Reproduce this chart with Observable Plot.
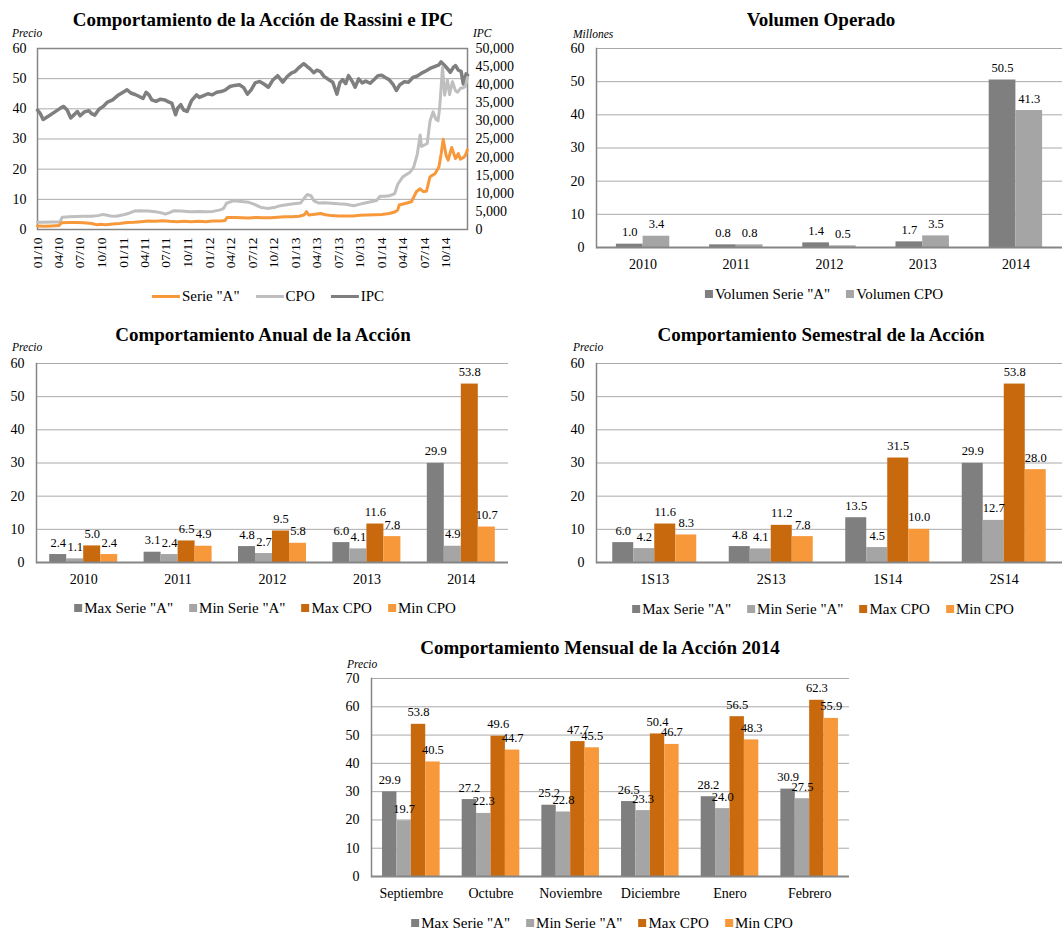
<!DOCTYPE html>
<html>
<head>
<meta charset="utf-8">
<script src="https://cdn.jsdelivr.net/npm/d3@7"></script>
<script src="https://cdn.jsdelivr.net/npm/@observablehq/plot@0.6"></script>
<style>
  html, body { margin: 0; padding: 0; background: #fff; }
  body { width: 1062px; height: 930px; position: relative; overflow: hidden;
         font-family: "Liberation Serif", "Times New Roman", serif; color: #000; }
  .abs { position: absolute; white-space: nowrap; }
  .title { font-weight: bold; font-size: 19px; line-height: 22px; transform: translateX(-50%); }
  .unit { font-style: italic; font-size: 11.5px; line-height: 14px; }
  .legend { display: flex; align-items: center; font-size: 15px; line-height: 16px; transform: translateX(-50%); }
  .legend .item { display: flex; align-items: center; margin: 0 8px; }
  .legend .sq { width: 8px; height: 8px; margin-right: 2px; }
  .legend .ln { width: 28px; height: 3px; margin-right: 2px; }
  svg { overflow: visible; }
</style>
</head>
<body>
<script>
// ---------------- DATA ----------------
// Chart 1: price series
const serieADates = ["2010-01-01","2010-02-01","2010-03-01","2010-04-01","2010-04-13","2010-05-16","2010-06-16","2010-07-16","2010-08-19","2010-09-07","2010-10-01","2010-10-19","2010-11-16","2010-12-16","2011-01-16","2011-02-16","2011-03-16","2011-04-16","2011-05-16","2011-06-16","2011-07-16","2011-08-16","2011-09-16","2011-10-16","2011-11-16","2011-12-16","2012-01-16","2012-02-16","2012-03-07","2012-03-16","2012-04-16","2012-05-16","2012-06-16","2012-07-16","2012-08-16","2012-09-16","2012-10-16","2012-11-16","2012-12-16","2013-01-16","2013-02-07","2013-02-16","2013-02-25","2013-03-16","2013-04-16","2013-05-07","2013-06-01","2013-07-01","2013-08-01","2013-09-01","2013-10-01","2013-11-01","2013-12-01","2014-01-01","2014-02-01","2014-02-25","2014-03-10","2014-03-16","2014-04-10","2014-05-07","2014-05-28","2014-06-13","2014-06-25","2014-07-10","2014-07-25","2014-08-16","2014-09-01","2014-09-10","2014-09-19","2014-10-01","2014-10-10","2014-10-25","2014-11-10","2014-11-22","2014-12-01","2014-12-16","2014-12-22","2014-12-31"];
const serieAValues = [1.2,1.1,1.2,1.3,2.2,2.3,2.3,2.2,2.0,1.6,1.7,1.6,1.8,2.0,2.3,2.4,2.6,2.8,2.7,2.9,2.7,2.6,2.7,2.6,2.7,2.6,2.8,2.8,3.0,4.0,4.0,3.9,3.8,4.0,3.9,3.9,4.1,4.2,4.2,4.4,4.9,5.9,4.8,5.0,5.3,4.9,4.6,4.5,4.5,4.5,4.7,4.8,4.9,5.0,5.3,5.8,6.5,8.1,8.6,9.2,12.5,13.5,12.6,12.7,17.5,18.6,20.8,25.0,29.9,24.6,23.0,27.2,23.5,25.2,23.3,24.0,24.6,26.5];

const cpoDates = ["2010-01-01","2010-02-01","2010-03-01","2010-04-07","2010-04-16","2010-05-16","2010-06-16","2010-07-16","2010-08-16","2010-09-16","2010-10-04","2010-10-19","2010-11-07","2010-12-01","2011-01-01","2011-01-25","2011-02-16","2011-03-13","2011-04-16","2011-05-16","2011-06-07","2011-06-28","2011-07-16","2011-08-01","2011-09-01","2011-10-10","2011-11-16","2011-12-19","2012-01-16","2012-02-16","2012-03-01","2012-03-13","2012-04-10","2012-05-16","2012-06-16","2012-07-10","2012-08-04","2012-09-01","2012-09-16","2012-10-07","2012-10-28","2012-12-01","2013-01-01","2013-01-22","2013-02-07","2013-02-19","2013-03-07","2013-03-19","2013-04-07","2013-05-01","2013-06-01","2013-07-01","2013-08-01","2013-09-04","2013-10-01","2013-10-22","2013-11-16","2013-12-10","2013-12-25","2014-01-16","2014-02-07","2014-02-25","2014-03-10","2014-04-01","2014-05-01","2014-05-16","2014-06-01","2014-06-13","2014-06-19","2014-07-01","2014-07-13","2014-07-25","2014-08-07","2014-08-19","2014-08-28","2014-09-04","2014-09-10","2014-09-16","2014-09-25","2014-10-07","2014-10-16","2014-10-28","2014-11-10","2014-11-19","2014-12-01","2014-12-13","2014-12-22","2014-12-31"];
const cpoValues = [2.4,2.4,2.5,2.5,4.1,4.2,4.3,4.4,4.4,4.6,5.0,4.8,4.5,4.4,4.9,5.4,6.1,6.2,6.1,5.9,5.6,5.1,5.6,6.2,6.1,5.9,6.0,5.9,6.0,6.5,7.0,8.7,9.5,9.3,9.0,8.3,7.4,7.0,7.1,7.4,7.9,8.3,8.6,8.8,10.5,11.6,11.2,9.5,8.8,8.9,8.7,8.5,8.4,7.9,8.4,8.8,9.2,9.6,11.0,11.0,11.3,11.9,15.0,17.5,19.0,20.5,25.0,31.3,27.5,28.0,28.5,36.0,39.0,36.5,36.0,40.5,47.0,53.8,44.5,49.6,44.7,49.0,46.0,45.5,46.8,47.0,47.5,50.4];

const ipcDates = ["2010-01-01","2010-01-13","2010-01-25","2010-02-16","2010-03-16","2010-04-10","2010-04-22","2010-05-07","2010-05-22","2010-06-07","2010-06-19","2010-07-01","2010-07-19","2010-08-07","2010-08-19","2010-09-01","2010-09-19","2010-10-07","2010-10-25","2010-11-16","2010-12-07","2011-01-01","2011-01-16","2011-02-01","2011-02-19","2011-03-07","2011-03-25","2011-04-07","2011-04-19","2011-05-01","2011-05-19","2011-06-07","2011-06-25","2011-07-13","2011-07-25","2011-08-10","2011-08-19","2011-09-01","2011-09-13","2011-09-28","2011-10-16","2011-11-07","2011-11-19","2011-12-07","2011-12-25","2012-01-13","2012-02-01","2012-02-19","2012-03-07","2012-03-28","2012-04-16","2012-05-07","2012-05-25","2012-06-10","2012-06-25","2012-07-13","2012-08-01","2012-08-19","2012-09-07","2012-09-25","2012-10-16","2012-11-07","2012-11-25","2012-12-13","2012-12-28","2013-01-16","2013-02-04","2013-02-19","2013-03-04","2013-03-19","2013-04-01","2013-04-16","2013-05-01","2013-05-19","2013-06-07","2013-06-25","2013-07-07","2013-07-19","2013-08-01","2013-08-13","2013-08-28","2013-09-10","2013-09-25","2013-10-10","2013-10-25","2013-11-13","2013-12-01","2013-12-16","2014-01-01","2014-01-16","2014-02-01","2014-02-19","2014-03-04","2014-03-19","2014-04-07","2014-04-25","2014-05-13","2014-06-01","2014-06-19","2014-07-07","2014-07-25","2014-08-13","2014-09-01","2014-09-10","2014-09-25","2014-10-10","2014-10-19","2014-11-01","2014-11-10","2014-11-22","2014-12-04","2014-12-13","2014-12-19","2014-12-25","2014-12-31"];
const ipcValues = [33000,32000,30400,31300,32500,33600,34000,33000,30800,31800,32600,31400,32500,32800,32000,31600,33200,34000,35200,35800,37000,38000,38600,37700,37300,36800,36200,37900,37200,35800,35400,36000,35800,35200,34900,31700,33500,34500,33000,32600,35500,37200,36500,37000,37500,37200,37900,38100,38500,39500,39800,40000,39200,37400,38500,40500,40900,40200,39300,41200,42500,40700,42200,43200,43600,44800,45800,45000,44300,43300,44000,43600,42300,41500,40700,37400,40500,41400,40300,42500,41000,39300,41600,40500,41000,40400,41500,42500,42600,42000,41400,40000,38400,40000,40800,40700,42000,42400,43200,43800,44500,45000,45500,46300,45300,44200,43400,44800,45300,44000,43700,40200,41500,43000,42600];

const priceTicks = [0, 10, 20, 30, 40, 50, 60];
const ipcTicks = [0, 5000, 10000, 15000, 20000, 25000, 30000, 35000, 40000, 45000, 50000];

// Chart 2: Volumen Operado (millones)
const volYears = ["2010", "2011", "2012", "2013", "2014"];
const volSerieA = [1.0, 0.8, 1.4, 1.7, 50.5];
const volCPO = [3.4, 0.8, 0.5, 3.5, 41.3];

// Chart 3: Comportamiento Anual
const anualYears = ["2010", "2011", "2012", "2013", "2014"];
const anualMaxA = [2.4, 3.1, 4.8, 6.0, 29.9];
const anualMinA = [1.1, 2.4, 2.7, 4.1, 4.9];
const anualMaxCPO = [5.0, 6.5, 9.5, 11.6, 53.8];
const anualMinCPO = [2.4, 4.9, 5.8, 7.8, 10.7];

// Chart 4: Comportamiento Semestral
const semestres = ["1S13", "2S13", "1S14", "2S14"];
const semMaxA = [6.0, 4.8, 13.5, 29.9];
const semMinA = [4.2, 4.1, 4.5, 12.7];
const semMaxCPO = [11.6, 11.2, 31.5, 53.8];
const semMinCPO = [8.3, 7.8, 10.0, 28.0];

// Chart 5: Comportamiento Mensual 2014
const meses = ["Septiembre", "Octubre", "Noviembre", "Diciembre", "Enero", "Febrero"];
const mesMaxA = [29.9, 27.2, 25.2, 26.5, 28.2, 30.9];
const mesMinA = [19.7, 22.3, 22.8, 23.3, 24.0, 27.5];
const mesMaxCPO = [53.8, 49.6, 47.7, 50.4, 56.5, 62.3];
const mesMinCPO = [40.5, 44.7, 45.5, 46.7, 48.3, 55.9];
const mesTicks = [0, 10, 20, 30, 40, 50, 60, 70];

// ---------------- STYLE ----------------
const C = { darkGray: "#7f7f7f", lightGray: "#a5a5a5", darkOrange: "#c8690e", lightOrange: "#f7993b",
            cpoLine: "#bfbfbf", ipcLine: "#7f7f7f", serieLine: "#f7993b", grid: "#aaaaaa", axis: "#868686" };
const FONT = '"Liberation Serif", "Times New Roman", serif';
const fmt1 = d3.format(".1f");
const parse = d3.utcParse("%Y-%m-%d");

function place(el, left, top) { el.style.position = "absolute"; el.style.left = left + "px"; el.style.top = top + "px"; document.body.appendChild(el); return el; }
function textAt(cls, txt, left, cy, lh) {
  const d = document.createElement("div"); d.className = "abs " + cls; d.textContent = txt;
  place(d, left, cy - lh / 2); return d;
}
function legend(items, cx, cy, kind) {
  const d = document.createElement("div"); d.className = "abs legend";
  for (const it of items) {
    const s = document.createElement("span"); s.className = "item";
    const sw = document.createElement("span"); sw.className = kind; sw.style.background = it.color;
    s.appendChild(sw); s.appendChild(document.createTextNode(it.label)); d.appendChild(s);
  }
  place(d, cx, cy - 8);
}

// ---------------- CHART 1 ----------------
function rows(dates, values) { return dates.map((d, i) => ({ date: parse(d), value: values[i] })); }
const k = priceTicks[priceTicks.length - 1] / ipcTicks[ipcTicks.length - 1];
const dStart = parse(ipcDates[0]), dEnd = parse(ipcDates[ipcDates.length - 1]);
const monthTicks = d3.utcMonth.every(3).range(dStart, dEnd);

const chart1 = Plot.plot({
  width: 530, height: 260, marginLeft: 37, marginRight: 63, marginTop: 8, marginBottom: 71,
  style: { fontFamily: FONT, fontSize: "14px", color: "#000", background: "transparent" },
  x: { type: "utc", domain: [dStart, dEnd] },
  y: { domain: [0, 60] },
  marks: [
    Plot.gridY(priceTicks, { stroke: C.grid, strokeOpacity: 1 }),
    Plot.frame({ stroke: C.axis, strokeWidth: 1.5 }),
    Plot.line(rows(ipcDates, ipcValues), { x: "date", y: d => d.value * k, stroke: C.ipcLine, strokeWidth: 3.5 }),
    Plot.line(rows(cpoDates, cpoValues), { x: "date", y: "value", stroke: C.cpoLine, strokeWidth: 3 }),
    Plot.line(rows(serieADates, serieAValues), { x: "date", y: "value", stroke: C.serieLine, strokeWidth: 3 }),
    Plot.axisY(priceTicks, { anchor: "left", tickSize: 0, tickPadding: 11, label: null, fontSize: 14 }),
    Plot.axisY(ipcTicks.map(v => v * k), { anchor: "right", tickSize: 0, tickPadding: 8, label: null, fontSize: 14,
      tickFormat: v => d3.format(",")(Math.round(v / k)) }),
    Plot.axisX(monthTicks, { tickRotate: -90, tickSize: 0, tickPadding: 8, label: null, fontSize: 13.5,
      tickFormat: d3.utcFormat("%m/%y") })
  ]
});
place(chart1, 0, 40);
textAt("title", "Comportamiento de la Acción de Rassini e IPC", 263, 20, 22);
textAt("unit", "Precio", 12, 33, 14);
textAt("unit", "IPC", 473, 33, 14);
legend([{ label: 'Serie "A"', color: C.serieLine }, { label: "CPO", color: C.cpoLine }, { label: "IPC", color: C.ipcLine }], 268, 296, "ln");

// ---------------- BAR CHARTS ----------------
function groupedBars({ cats, series, width, height, marginLeft, marginRight, ticks, barW }) {
  const B = (width - marginLeft - marginRight) / cats.length;
  const m = series.length;
  const marks = [Plot.gridY(ticks.slice(1), { stroke: C.grid, strokeOpacity: 1 })];
  series.forEach((s, i) => {
    const data = cats.map((c, j) => ({ cat: c, value: s.values[j] }));
    const off = (i - (m - 1) / 2) * barW;
    const insetLeft = B / 2 + off - barW / 2;
    const insetRight = B - insetLeft - barW;
    marks.push(Plot.barY(data, { x: "cat", y: "value", fill: s.color, insetLeft, insetRight }));
  });
  series.forEach((s, i) => {
    const data = cats.map((c, j) => ({ cat: c, value: s.values[j] }));
    const off = (i - (m - 1) / 2) * barW;
    marks.push(Plot.text(data, { x: "cat", y: "value", text: d => fmt1(d.value), dx: off, dy: -12, fontSize: 12.5, fill: "#000" }));
  });
  marks.push(
    Plot.ruleY([0], { stroke: C.axis, strokeWidth: 2 }),
    Plot.frame({ anchor: "left", stroke: C.axis, strokeWidth: 1.5 }),
    Plot.axisY(ticks, { tickSize: 0, tickPadding: 12, label: null, fontSize: 14 }),
    Plot.axisX({ tickSize: 0, tickPadding: 12, label: null, fontSize: 14 })
  );
  return Plot.plot({
    width, height, marginLeft, marginRight, marginTop: 8, marginBottom: 33,
    style: { fontFamily: FONT, fontSize: "14px", color: "#000", background: "transparent" },
    x: { type: "band", domain: cats, padding: 0, round: false },
    y: { domain: [0, ticks[ticks.length - 1]] },
    marks
  });
}

// Chart 2
place(groupedBars({ cats: volYears, width: 532, height: 240, marginLeft: 66, marginRight: 0, ticks: priceTicks, barW: 26.7,
  series: [{ values: volSerieA, color: C.darkGray }, { values: volCPO, color: C.lightGray }] }), 530, 40);
textAt("title", "Volumen Operado", 821, 20, 22);
textAt("unit", "Millones", 573, 34, 14);
legend([{ label: 'Volumen Serie "A"', color: C.darkGray }, { label: "Volumen CPO", color: C.lightGray }], 824, 294, "sq");

const fourSeries = (a, b, c, d) => [
  { values: a, color: C.darkGray }, { values: b, color: C.lightGray },
  { values: c, color: C.darkOrange }, { values: d, color: C.lightOrange }];
const fourLegend = [
  { label: 'Max Serie "A"', color: C.darkGray }, { label: 'Min Serie "A"', color: C.lightGray },
  { label: "Max CPO", color: C.darkOrange }, { label: "Min CPO", color: C.lightOrange }];

// Chart 3
place(groupedBars({ cats: anualYears, width: 530, height: 240, marginLeft: 36, marginRight: 22, ticks: priceTicks, barW: 17,
  series: fourSeries(anualMaxA, anualMinA, anualMaxCPO, anualMinCPO) }), 0, 355);
textAt("title", "Comportamiento Anual de la Acción", 263, 335, 22);
textAt("unit", "Precio", 12, 347, 14);
legend(fourLegend, 265, 608, "sq");

// Chart 4
place(groupedBars({ cats: semestres, width: 532, height: 240, marginLeft: 66, marginRight: 0, ticks: priceTicks, barW: 21,
  series: fourSeries(semMaxA, semMinA, semMaxCPO, semMinCPO) }), 530, 355);
textAt("title", "Comportamiento Semestral de la Acción", 821, 335, 22);
textAt("unit", "Precio", 573, 347, 14);
legend(fourLegend, 823, 609, "sq");

// Chart 5
place(groupedBars({ cats: meses, width: 520, height: 239, marginLeft: 31, marginRight: 11, ticks: mesTicks, barW: 14.4,
  series: fourSeries(mesMaxA, mesMinA, mesMaxCPO, mesMinCPO) }), 340, 670);
textAt("title", "Comportamiento Mensual de la Acción 2014", 600, 648, 22);
textAt("unit", "Precio", 347, 664, 14);
legend(fourLegend, 602, 923, "sq");
</script>
</body>
</html>
